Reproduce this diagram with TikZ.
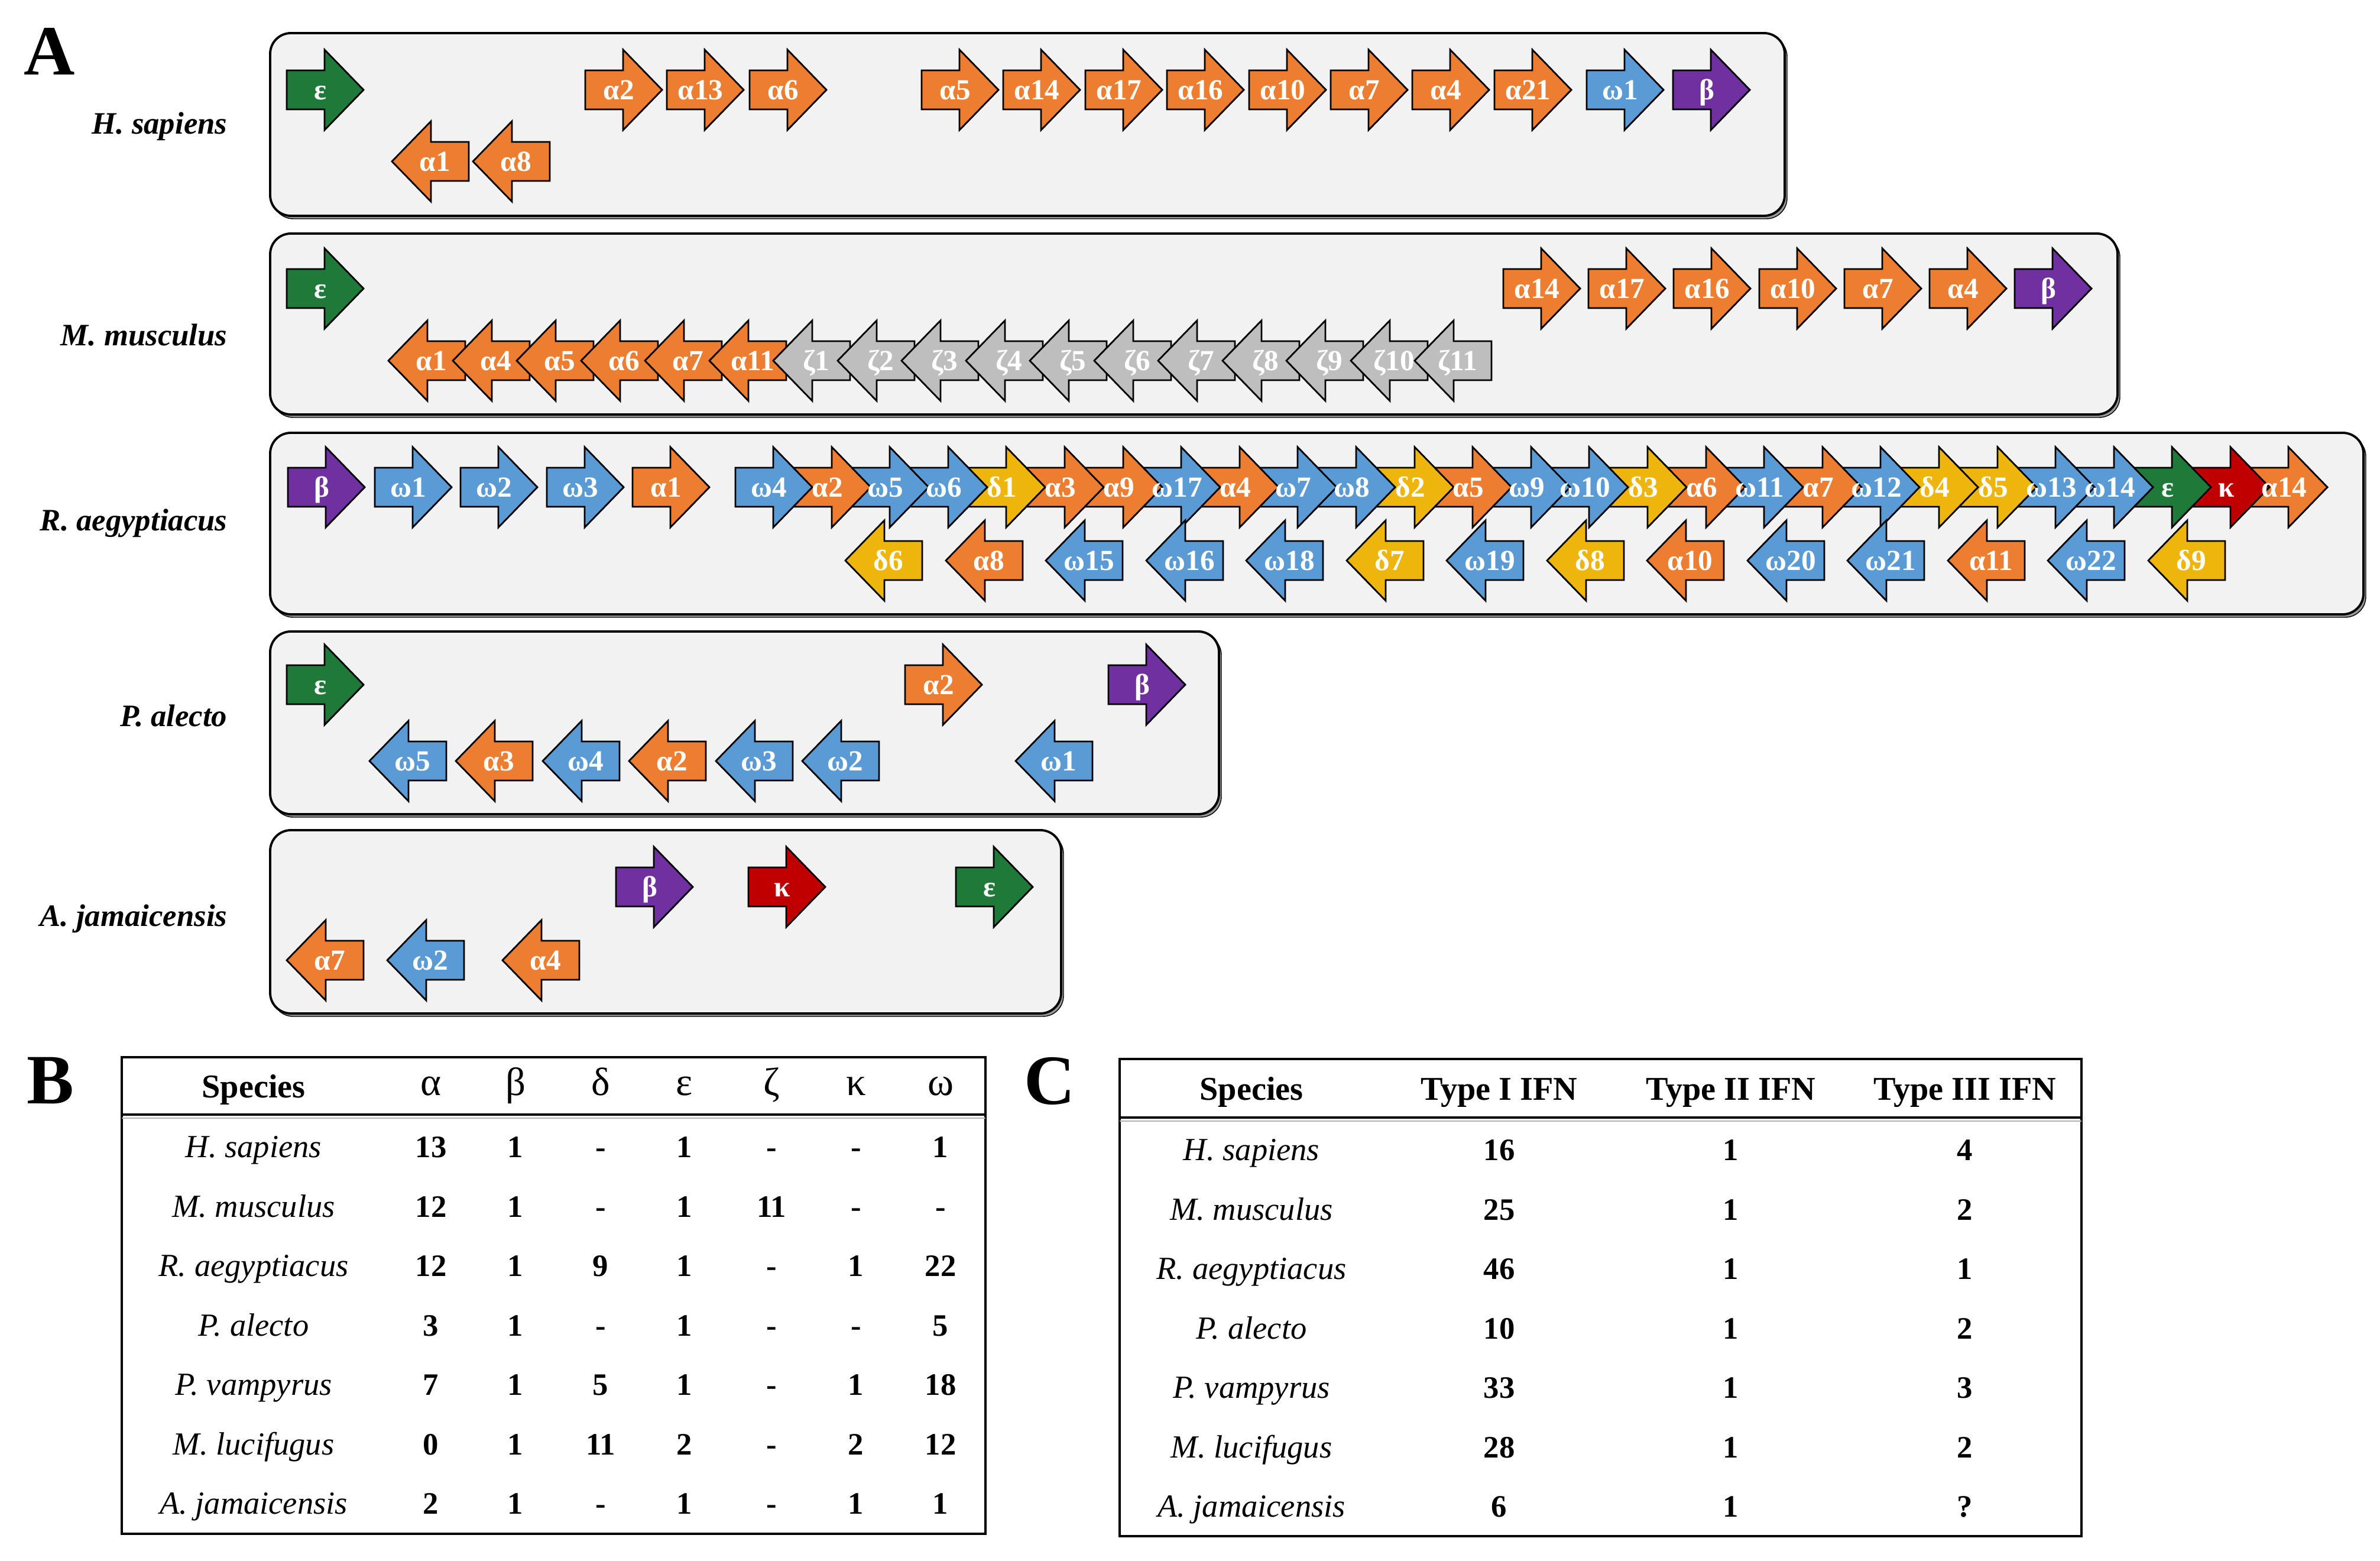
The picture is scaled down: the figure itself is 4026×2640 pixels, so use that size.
\documentclass[tikz,border=0pt]{standalone}
\usepackage{fontspec}
\setmainfont{Liberation Serif}
\usepackage{tikz}
\definecolor{ifnalpha}{RGB}{237,125,49}
\definecolor{ifnomega}{RGB}{91,155,213}
\definecolor{ifndelta}{RGB}{238,182,12}
\definecolor{ifneps}{RGB}{31,122,58}
\definecolor{ifnbeta}{RGB}{112,48,160}
\definecolor{ifnkappa}{RGB}{192,0,0}
\definecolor{ifnzeta}{RGB}{190,190,190}
\definecolor{panelgray}{RGB}{242,242,242}

\pgfdeclarelayer{front}
\pgfsetlayers{main,front}

\tikzset{
  panel/.style={draw=black, line width=1.1pt, fill=panelgray, rounded corners=0.35cm},
  panelshadow/.style={fill=black!40, rounded corners=0.35cm},
  gene/.style={draw=black, line width=0.8pt, line join=miter},
  genelbl/.style={text=white, inner sep=0pt, text height=9.5pt, text depth=0pt,
    font=\fontsize{14}{14}\selectfont\bfseries},
  species/.style={anchor=base east, inner sep=0pt,
    font=\fontsize{15}{15}\selectfont\bfseries\itshape},
  panelletter/.style={inner sep=0pt, font=\fontsize{34}{34}\selectfont\bfseries},
  tablebox/.style={draw=black, line width=1.1pt},
  headcell/.style={inner sep=0pt, text height=10.8pt, text depth=0pt,
    font=\fontsize{16}{16}\selectfont\bfseries},
  greekcell/.style={inner sep=0pt, text height=8.5pt, text depth=0pt,
    font=\fontsize{19}{19}\selectfont},
  namecell/.style={inner sep=0pt, text height=10.2pt, text depth=0pt,
    font=\fontsize{15.5}{16}\selectfont\itshape},
  numcell/.style={inner sep=0pt, text height=10.1pt, text depth=0pt,
    font=\fontsize{15}{16}\selectfont\bfseries}
}

% gene pointing right: name, left end x, axis y, colour, label
\newcommand{\fwdgene}[5]{%
  \draw[gene, fill=#4] (#2,#3) ++(0,-33) -- ++(64,0) -- ++(0,-35) -- ++(66,68)
    -- ++(-66,68) -- ++(0,-35) -- ++(-64,0) -- cycle;
  \begin{pgfonlayer}{front}\node[genelbl] (#1) at (#2+57,#3) {#5};\end{pgfonlayer}}
% gene pointing left: name, tip x, axis y, colour, label
\newcommand{\revgene}[5]{%
  \draw[gene, fill=#4] (#2,#3) -- ++(66,-68) -- ++(0,35) -- ++(64,0) -- ++(0,66)
    -- ++(-64,0) -- ++(0,35) -- cycle;
  \begin{pgfonlayer}{front}\node[genelbl] (#1) at (#2+73,#3) {#5};\end{pgfonlayer}}

\begin{document}
\begin{tikzpicture}[x=0.01cm, y=-0.01cm]
\useasboundingbox (0,0) rectangle (4026,2640);

% Panel A
\node[panelletter] (letterA) at (84,87) {A};

% H. sapiens
\draw[panelshadow] (461,61) rectangle (3023,370);
\draw[panel] (457,56) rectangle (3019,365);
\node[species] (hs) at (385,227) {H. sapiens};
\fwdgene{hsE}{485}{152}{ifneps}{ε}
\fwdgene{hsA2}{990}{152}{ifnalpha}{α2}
\fwdgene{hsA13}{1128}{152}{ifnalpha}{α13}
\fwdgene{hsA6}{1268}{152}{ifnalpha}{α6}
\fwdgene{hsA5}{1559}{152}{ifnalpha}{α5}
\fwdgene{hsA14}{1697}{152}{ifnalpha}{α14}
\fwdgene{hsA17}{1836}{152}{ifnalpha}{α17}
\fwdgene{hsA16}{1974}{152}{ifnalpha}{α16}
\fwdgene{hsA10}{2113}{152}{ifnalpha}{α10}
\fwdgene{hsA7}{2251}{152}{ifnalpha}{α7}
\fwdgene{hsA4}{2389}{152}{ifnalpha}{α4}
\fwdgene{hsA21}{2528}{152}{ifnalpha}{α21}
\fwdgene{hsW1}{2684}{152}{ifnomega}{ω1}
\fwdgene{hsB}{2830}{152}{ifnbeta}{β}
\revgene{hsA1}{663}{273}{ifnalpha}{α1}
\revgene{hsA8}{800}{273}{ifnalpha}{α8}

% M. musculus
\draw[panelshadow] (461,400) rectangle (3586,706);
\draw[panel] (457,395) rectangle (3582,701);
\node[species] (mm) at (385,585) {M. musculus};
\fwdgene{mmE}{485}{488}{ifneps}{ε}
\fwdgene{mmtA14}{2543}{488}{ifnalpha}{α14}
\fwdgene{mmtA17}{2687}{488}{ifnalpha}{α17}
\fwdgene{mmtA16}{2831}{488}{ifnalpha}{α16}
\fwdgene{mmtA10}{2976}{488}{ifnalpha}{α10}
\fwdgene{mmtA7}{3120}{488}{ifnalpha}{α7}
\fwdgene{mmtA4}{3264}{488}{ifnalpha}{α4}
\fwdgene{mmB}{3408}{488}{ifnbeta}{β}
\revgene{mmbA1}{657}{610}{ifnalpha}{α1}
\revgene{mmbA4}{766}{610}{ifnalpha}{α4}
\revgene{mmbA5}{874}{610}{ifnalpha}{α5}
\revgene{mmbA6}{983}{610}{ifnalpha}{α6}
\revgene{mmbA7}{1091}{610}{ifnalpha}{α7}
\revgene{mmbA11}{1200}{610}{ifnalpha}{α11}
\revgene{mmZ1}{1308}{610}{ifnzeta}{ζ1}
\revgene{mmZ2}{1417}{610}{ifnzeta}{ζ2}
\revgene{mmZ3}{1525}{610}{ifnzeta}{ζ3}
\revgene{mmZ4}{1634}{610}{ifnzeta}{ζ4}
\revgene{mmZ5}{1742}{610}{ifnzeta}{ζ5}
\revgene{mmZ6}{1851}{610}{ifnzeta}{ζ6}
\revgene{mmZ7}{1959}{610}{ifnzeta}{ζ7}
\revgene{mmZ8}{2068}{610}{ifnzeta}{ζ8}
\revgene{mmZ9}{2176}{610}{ifnzeta}{ζ9}
\revgene{mmZ10}{2285}{610}{ifnzeta}{ζ10}
\revgene{mmZ11}{2393}{610}{ifnzeta}{ζ11}

% R. aegyptiacus
\draw[panelshadow] (461,737) rectangle (4002,1044);
\draw[panel] (457,732) rectangle (3998,1039);
\node[species] (ra) at (385,898) {R. aegyptiacus};
\fwdgene{raB}{487}{824}{ifnbeta}{β}
\fwdgene{raW1}{634}{824}{ifnomega}{ω1}
\fwdgene{raW2}{779}{824}{ifnomega}{ω2}
\fwdgene{raW3}{925}{824}{ifnomega}{ω3}
\fwdgene{raA1}{1070}{824}{ifnalpha}{α1}
% the packed cluster, drawn from its right end
\fwdgene{raA14}{3807}{824}{ifnalpha}{α14}
\fwdgene{raK}{3709}{824}{ifnkappa}{κ}
\fwdgene{raE}{3610}{824}{ifneps}{ε}
\fwdgene{raW14}{3512}{824}{ifnomega}{ω14}
\fwdgene{raW13}{3413}{824}{ifnomega}{ω13}
\fwdgene{raD5}{3315}{824}{ifndelta}{δ5}
\fwdgene{raD4}{3216}{824}{ifndelta}{δ4}
\fwdgene{raW12}{3117}{824}{ifnomega}{ω12}
\fwdgene{raA7}{3019}{824}{ifnalpha}{α7}
\fwdgene{raW11}{2920}{824}{ifnomega}{ω11}
\fwdgene{raA6}{2822}{824}{ifnalpha}{α6}
\fwdgene{raD3}{2723}{824}{ifndelta}{δ3}
\fwdgene{raW10}{2624}{824}{ifnomega}{ω10}
\fwdgene{raW9}{2526}{824}{ifnomega}{ω9}
\fwdgene{raA5}{2427}{824}{ifnalpha}{α5}
\fwdgene{raD2}{2329}{824}{ifndelta}{δ2}
\fwdgene{raW8}{2230}{824}{ifnomega}{ω8}
\fwdgene{raW7}{2131}{824}{ifnomega}{ω7}
\fwdgene{raA4}{2033}{824}{ifnalpha}{α4}
\fwdgene{raW17}{1934}{824}{ifnomega}{ω17}
\fwdgene{raA9}{1836}{824}{ifnalpha}{α9}
\fwdgene{raA3}{1737}{824}{ifnalpha}{α3}
\fwdgene{raD1}{1638}{824}{ifndelta}{δ1}
\fwdgene{raW6}{1540}{824}{ifnomega}{ω6}
\fwdgene{raW5}{1441}{824}{ifnomega}{ω5}
\fwdgene{raA2}{1343}{824}{ifnalpha}{α2}
\fwdgene{raW4}{1244}{824}{ifnomega}{ω4}
\revgene{raD6}{1430}{948}{ifndelta}{δ6}
\revgene{raA8}{1600}{948}{ifnalpha}{α8}
\revgene{raW15}{1769}{948}{ifnomega}{ω15}
\revgene{raW16}{1939}{948}{ifnomega}{ω16}
\revgene{raW18}{2108}{948}{ifnomega}{ω18}
\revgene{raD7}{2278}{948}{ifndelta}{δ7}
\revgene{raW19}{2447}{948}{ifnomega}{ω19}
\revgene{raD8}{2617}{948}{ifndelta}{δ8}
\revgene{raA10}{2786}{948}{ifnalpha}{α10}
\revgene{raW20}{2956}{948}{ifnomega}{ω20}
\revgene{raW21}{3125}{948}{ifnomega}{ω21}
\revgene{raA11}{3295}{948}{ifnalpha}{α11}
\revgene{raW22}{3464}{948}{ifnomega}{ω22}
\revgene{raD9}{3634}{948}{ifndelta}{δ9}

% P. alecto
\draw[panelshadow] (461,1073) rectangle (2066,1382);
\draw[panel] (457,1068) rectangle (2062,1377);
\node[species] (pa) at (385,1228) {P. alecto};
\fwdgene{paE}{485}{1158}{ifneps}{ε}
\fwdgene{patA2}{1531}{1158}{ifnalpha}{α2}
\fwdgene{paB}{1875}{1158}{ifnbeta}{β}
\revgene{paW5}{625}{1287}{ifnomega}{ω5}
\revgene{paA3}{771}{1287}{ifnalpha}{α3}
\revgene{paW4}{918}{1287}{ifnomega}{ω4}
\revgene{pabA2}{1064}{1287}{ifnalpha}{α2}
\revgene{paW3}{1211}{1287}{ifnomega}{ω3}
\revgene{paW2}{1357}{1287}{ifnomega}{ω2}
\revgene{paW1}{1718}{1287}{ifnomega}{ω1}

% A. jamaicensis
\draw[panelshadow] (461,1409) rectangle (1799,1719);
\draw[panel] (457,1404) rectangle (1795,1714);
\node[species] (aj) at (385,1566) {A. jamaicensis};
\fwdgene{ajB}{1042}{1500}{ifnbeta}{β}
\fwdgene{ajK}{1266}{1500}{ifnkappa}{κ}
\fwdgene{ajE}{1617}{1500}{ifneps}{ε}
\revgene{ajA7}{485}{1624}{ifnalpha}{α7}
\revgene{ajW2}{655}{1624}{ifnomega}{ω2}
\revgene{ajA4}{850}{1624}{ifnalpha}{α4}

% Panel B
\node[panelletter] (letterB) at (85,1828) {B};
\draw[tablebox] (206,1788) rectangle (1667,2594);
\draw[line width=1pt] (206,1885) -- (1667,1885);
\draw[gray!60, line width=0.8pt] (206,1891) -- (1667,1891);
\node[headcell] (bhSp) at (429,1838) {Species};
\foreach \g/\cx [count=\c] in {α/729,β/872,δ/1016,ε/1158,ζ/1305,κ/1448,ω/1591}
  \node[greekcell] (bh\c) at (\cx,1838) {\g};
\foreach \sp/\va/\vb/\vd/\ve/\vz/\vk/\vw [count=\r] in {
    H. sapiens/13/1/-/1/-/-/1,
    M. musculus/12/1/-/1/11/-/-,
    R. aegyptiacus/12/1/9/1/-/1/22,
    P. alecto/3/1/-/1/-/-/5,
    P. vampyrus/7/1/5/1/-/1/18,
    M. lucifugus/0/1/11/2/-/2/12,
    A. jamaicensis/2/1/-/1/-/1/1} {
  \pgfmathsetmacro\ry{1940+100.5*(\r-1)}
  \node[namecell] (bn\r) at (429,\ry) {\sp};
  \foreach \v/\cx [count=\c] in {\va/729,\vb/872,\vd/1016,\ve/1158,\vz/1305,\vk/1448,\vw/1591}
    \node[numcell] (b\r-\c) at (\cx,\ry) {\v};
}

% Panel C
\node[panelletter] (letterC) at (1776,1828) {C};
\draw[tablebox] (1894,1791) rectangle (3521,2598);
\draw[line width=1pt] (1894,1890) -- (3521,1890);
\draw[gray!60, line width=0.8pt] (1894,1896) -- (3521,1896);
\node[headcell] (chSp) at (2117,1841) {Species};
\node[headcell] (ch1) at (2536,1841) {Type I IFN};
\node[headcell] (ch2) at (2928,1841) {Type II IFN};
\node[headcell] (ch3) at (3324,1841) {Type III IFN};
\foreach \sp/\ta/\tb/\tc [count=\r] in {
    H. sapiens/16/1/4,
    M. musculus/25/1/2,
    R. aegyptiacus/46/1/1,
    P. alecto/10/1/2,
    P. vampyrus/33/1/3,
    M. lucifugus/28/1/2,
    A. jamaicensis/6/1/?} {
  \pgfmathsetmacro\ry{1945+100.5*(\r-1)}
  \node[namecell] (cn\r) at (2117,\ry) {\sp};
  \node[numcell] (c\r-1) at (2536,\ry) {\ta};
  \node[numcell] (c\r-2) at (2928,\ry) {\tb};
  \node[numcell] (c\r-3) at (3324,\ry) {\tc};
}
\end{tikzpicture}
\end{document}
